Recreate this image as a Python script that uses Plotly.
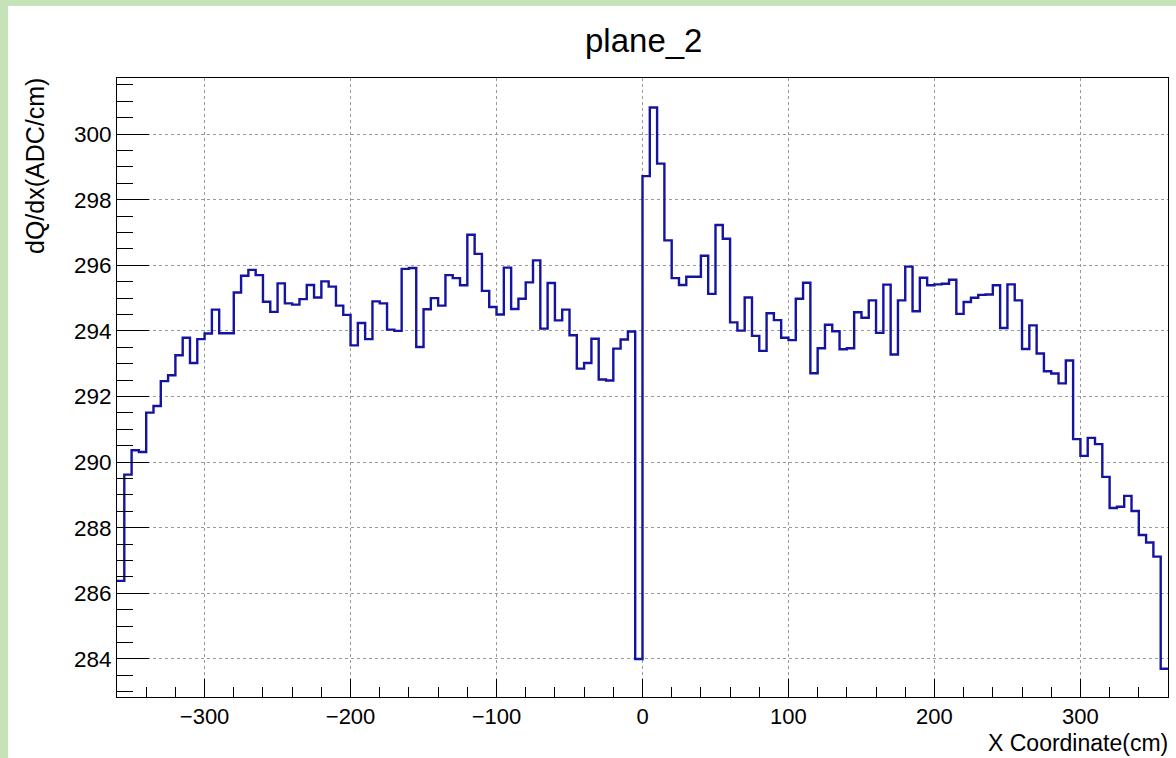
import plotly.graph_objects as go

# Histogram: 144 bins of 5 cm from -360 to 360
x_min = -360
x_max = 360
bin_width = 5
values = [
    286.38, 289.62, 290.36, 290.31, 291.51, 291.71, 292.47, 292.65, 293.26, 293.79,
    293.02, 293.75, 293.92, 294.65, 293.93, 293.93, 295.17, 295.68, 295.86, 295.70,
    294.89, 294.58, 295.45, 294.84, 294.80, 294.97, 295.40, 295.02, 295.51, 295.35,
    294.77, 294.49, 293.56, 294.24, 293.75, 294.90, 294.84, 294.04, 294.00, 295.89,
    295.92, 293.51, 294.66, 295.00, 294.77, 295.70, 295.61, 295.39, 296.93, 296.35,
    295.22, 294.73, 294.50, 295.93, 294.67, 294.98, 295.48, 296.15, 294.07, 295.46,
    294.32, 294.65, 293.87, 292.85, 293.02, 293.76, 292.52, 292.49, 293.46, 293.74,
    293.98, 284.00, 298.72, 300.81, 299.10, 296.76, 295.61, 295.40, 295.65, 295.65,
    296.29, 295.13, 297.23, 296.81, 294.26, 294.01, 295.02, 293.85, 293.39, 294.54,
    294.33, 293.79, 293.72, 294.98, 295.47, 292.71, 293.47, 294.19, 293.99, 293.44,
    293.47, 294.57, 294.40, 294.93, 293.94, 295.41, 293.28, 294.93, 295.96, 294.60,
    295.62, 295.39, 295.42, 295.44, 295.56, 294.52, 294.88, 295.01, 295.10, 295.11,
    295.39, 294.09, 295.42, 294.93, 293.45, 294.17, 293.31, 292.77, 292.70, 292.40,
    293.10, 290.70, 290.19, 290.74, 290.55, 289.55, 288.60, 288.64, 288.97, 288.51,
    287.78, 287.55, 287.12, 283.70,
]
x_ticks = [-300, -200, -100, 0, 100, 200, 300]
x_tick_labels = ["\u2212300", "\u2212200", "\u2212100", "0", "100", "200", "300"]
y_ticks = [284, 286, 288, 290, 292, 294, 296, 298, 300]

edges = [x_min + bin_width * i for i in range(len(values) + 1)]
ys = values + [values[-1]]

W, H = 1176, 758
L, R, T, B = 117, 8, 78, 61
pw, ph = W - L - R, H - T - B

def px(xp):
    return (xp - L) / pw

def py(yp):
    return (H - B - yp) / ph

fig = go.Figure()
fig.add_trace(go.Scatter(
    x=edges, y=ys, mode="lines", line=dict(shape="hv", color="#1414a0", width=2.4),
    hoverinfo="skip", showlegend=False,
))

font = "Liberation Sans, Arial, Helvetica, sans-serif"

fig.update_layout(
    width=W, height=H,
    margin=dict(l=L, r=R, t=T, b=B),
    paper_bgcolor="#c6e2b7",
    plot_bgcolor="white",
    font=dict(family=font, color="black", size=22),
    showlegend=False,
    shapes=[
        dict(type="rect", xref="paper", yref="paper",
             x0=px(8), x1=px(W + 5), y0=py(6), y1=py(H + 5),
             fillcolor="white", line=dict(width=0), layer="below"),
    ],
    annotations=[
        dict(text="plane_2", xref="paper", yref="paper", x=px(643), y=py(40),
             xanchor="center", yanchor="middle", showarrow=False,
             font=dict(size=33, family=font)),
        dict(text="X Coordinate(cm)", xref="paper", yref="paper", x=px(1169), y=py(757),
             xanchor="right", yanchor="bottom", showarrow=False,
             font=dict(size=23, family=font), borderpad=0),
        dict(text="dQ/dx(ADC/cm)", xref="paper", yref="paper", x=px(35), y=py(76),
             xanchor="center", yanchor="top", showarrow=False, textangle=-90,
             font=dict(size=25, family=font)),
    ],
)

fig.update_xaxes(
    range=[x_min, x_max], tickvals=x_ticks, ticktext=x_tick_labels,
    ticks="inside", ticklen=18, tickcolor="black", tickwidth=1,
    minor=dict(ticks="inside", ticklen=10, dtick=20, tick0=0, tickcolor="black", showgrid=False),
    showline=True, linecolor="black", linewidth=1, mirror=True,
    showgrid=True, gridcolor="#9a9a9a", griddash="dot", gridwidth=1,
    zeroline=False, tickfont=dict(size=22, family=font), ticklabelstandoff=0,
)
fig.update_yaxes(
    range=[282.84, 301.71], tickvals=y_ticks,
    ticks="inside", ticklen=32, tickcolor="black", tickwidth=1,
    minor=dict(ticks="inside", ticklen=16, dtick=0.5, tick0=0, tickcolor="black", showgrid=False),
    showline=True, linecolor="black", linewidth=1, mirror=True,
    showgrid=True, gridcolor="#9a9a9a", griddash="dot", gridwidth=1,
    zeroline=False, tickfont=dict(size=22.5, family=font),
)

fig.write_html("out.html")
